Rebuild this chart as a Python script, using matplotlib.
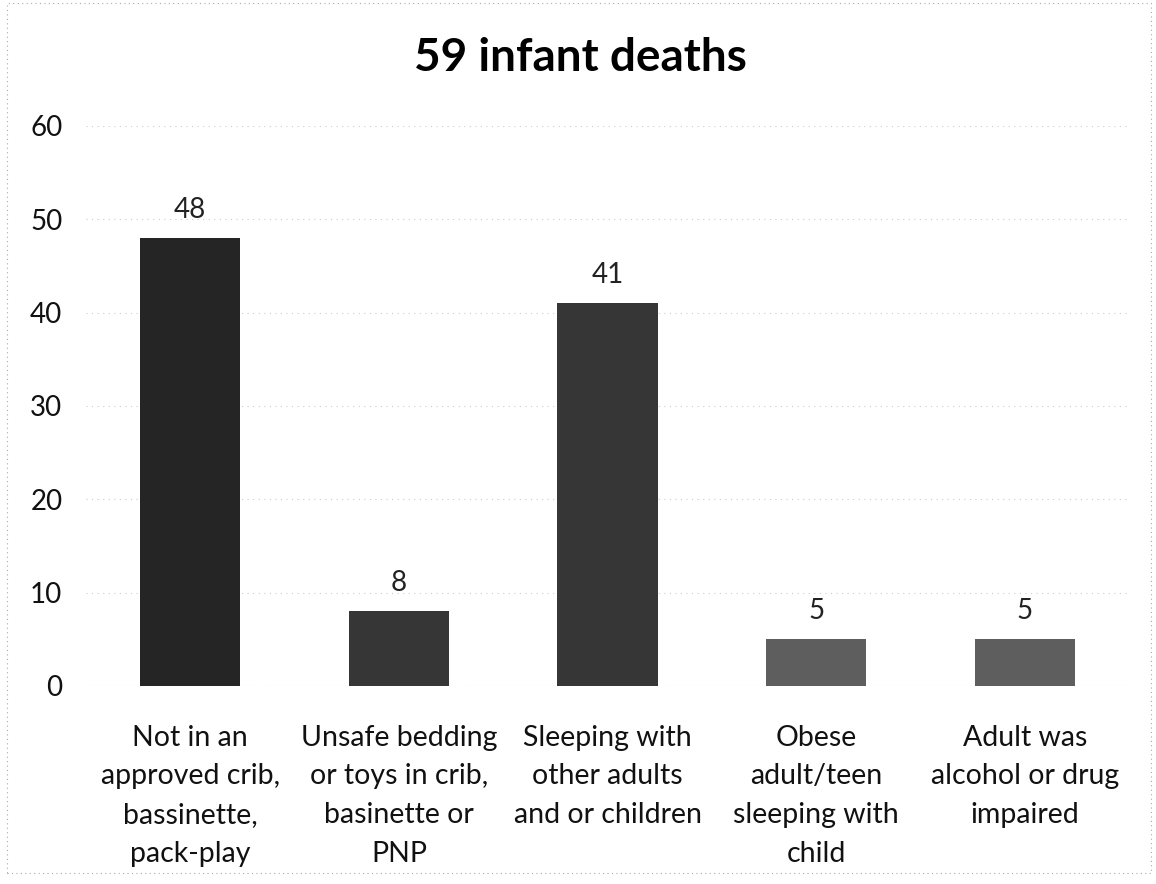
import matplotlib.pyplot as plt
from matplotlib.patches import Rectangle

categories = ['Not in an\napproved crib,\nbassinette,\npack-play',
              'Unsafe bedding\nor toys in crib,\nbasinette or\nPNP',
              'Sleeping with\nother adults\nand or children',
              'Obese\nadult/teen\nsleeping with\nchild',
              'Adult was\nalcohol or drug\nimpaired']
deaths = [48, 8, 41, 5, 5]
bar_colors = ['#252525', '#363636', '#363636', '#5e5e5e', '#5e5e5e']

plt.rcParams['font.family'] = ['Lato', 'DejaVu Sans']

fig = plt.figure(figsize=(11.56, 8.84), dpi=100)
ax = fig.add_axes([0.0744, 0.224, 0.9023, 0.6335])

x = range(len(categories))
bars = ax.bar(x, deaths, width=0.48, color=bar_colors, zorder=3)
for b, v in zip(bars, deaths):
    ax.text(b.get_x() + b.get_width() / 2, v + 1.6, str(v),
            ha='center', va='bottom', fontsize=20, color='#222222')

ax.set_xlim(-0.5, len(categories) - 0.5)
ax.set_ylim(0, 60)
ax.set_yticks(range(0, 61, 10))
ax.set_xticks(list(x))
ax.set_xticklabels(categories, fontsize=20.5, linespacing=1.6, color='#111111')
ax.tick_params(axis='y', labelsize=20, length=0, pad=17, labelcolor='#111111')
ax.tick_params(axis='x', length=0, pad=28)
ax.grid(axis='y', color='#cccccc', linestyle=(0, (1, 4)), linewidth=0.8, zorder=0)
for s in ax.spines.values():
    s.set_visible(False)
ax.axhline(0, color='#bbbbbb', linestyle=(0, (1, 3)), linewidth=0.8, zorder=1)

fig.suptitle('59 infant deaths', x=0.502, y=0.958, fontsize=33, fontweight='bold')

fig.patches.append(Rectangle((0.006, 0.012), 0.99, 0.985, transform=fig.transFigure,
                             fill=False, edgecolor='#aaaaaa', linestyle=(0, (1, 3)),
                             linewidth=0.8))

fig.savefig('out.png', dpi=100)
